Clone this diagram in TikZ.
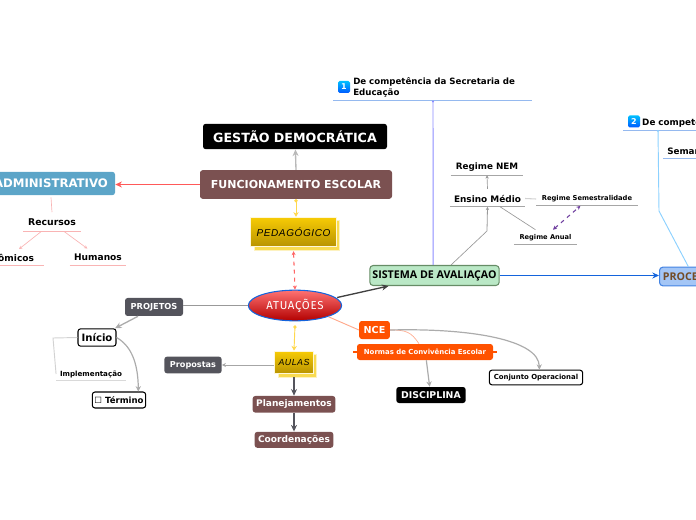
\documentclass[tikz,border=0pt]{standalone}
\usepackage{fontspec}
\setmainfont{DejaVu Sans}
\newfontfamily\handfont{Liberation Sans}[LetterSpace=6]
\newfontfamily\slimfont{Fira Sans}[LetterSpace=6]
\newfontfamily\titlefont{Open Sans}
\usetikzlibrary{arrows.meta,positioning,calc,shapes.geometric,shadows}
\newcommand{\px}[1]{\fontsize{#1}{#1}\selectfont}
\definecolor{mapbrown}{HTML}{7B5151}
\definecolor{mapslate}{HTML}{54545C}
\definecolor{mapsky}{HTML}{5CA5C8}
\definecolor{maporange}{HTML}{FF5200}
\definecolor{mappink}{HTML}{F9B4B4}
\definecolor{mapgold}{HTML}{F7CB05}
\definecolor{mapgoldb}{HTML}{B89300}
\definecolor{mapblue}{HTML}{1464DC}
\definecolor{mapgreen}{HTML}{BAE8C6}
\definecolor{mapsoft}{HTML}{A4C6F6}
\definecolor{mapyellow}{HTML}{FFD84D}
\definecolor{mapsalmon}{HTML}{FFA98C}
\definecolor{mappurple}{HTML}{7040A0}
\tikzset{
  solidBox/.style={rounded corners=2pt, align=center, inner sep=0pt, text=white, font=\bfseries\px{8}},
  blackBox/.style={solidBox, fill=black},
  brownBox/.style={solidBox, fill=mapbrown},
  slateBox/.style={solidBox, fill=mapslate, font=\bfseries\px{6.2}},
  orangeBox/.style={solidBox, fill=maporange},
  whiteBox/.style={rounded corners=2pt, draw=black, fill=white, thick, inner sep=0pt, font=\bfseries\px{7}},
  goldBox/.style={draw=white!85!mapgold, thick, top color=mapgold, bottom color=mapgoldb, inner sep=0pt,
    copy shadow={shadow xshift=2.6pt, shadow yshift=-2.6pt, fill=mapgold!70!white, draw=mapgold!25!white},
    font=\handfont\itshape\px{7.5}},
  rule/.style={inner sep=0pt, font=\bfseries\px{#1}, append after command={
    (\tikzlastnode.south west) edge[draw=ruleColor, line width=0.7pt] (\tikzlastnode.south east)}},
  numBox/.style={rounded corners=1.2pt, top color=cyan!75!blue, bottom color=blue!65!cyan, text=white, inner sep=0pt,
    minimum size=9pt, font=\bfseries\px{6}},
  thinLine/.style={draw=#1, line width=0.5pt},
  mapArrow/.style={-{Stealth[length=5pt,width=4.5pt]}, draw=#1, line width=1pt},
  softArrow/.style={-{Stealth[length=4pt,width=4pt]}, draw=gray!65, line width=0.9pt},
  thinArrow/.style={-{Stealth[length=2.5pt,width=2.5pt]}, draw=#1, line width=0.5pt},
  dotArrow/.style={{Circle[length=2.5pt]}-{Stealth[length=3.5pt,width=4pt]}, draw=mapyellow, line width=0.7pt},
  twoArrow/.style={{Stealth[length=3pt,width=3pt]}-{Stealth[length=3pt,width=3pt]}, dashed, draw=#1, line width=0.8pt}
}
\colorlet{ruleColor}{gray!65}
\begin{document}
\begin{tikzpicture}[x=0.75pt,y=-0.75pt]
  \useasboundingbox (0,0) rectangle (696,520);

  \node[blackBox, minimum width=138pt, minimum height=19pt, font=\bfseries\px{9.5}] (gestao) at (295,136.5) {GESTÃO DEMOCRÁTICA};
  \node[brownBox, minimum width=144pt, minimum height=21.5pt, font=\bfseries\px{8.25}] (funcionamento) at (296,184.5) {FUNCIONAMENTO ESCOLAR};
  \node[solidBox, fill=mapsky, minimum width=96pt, minimum height=17.5pt, font=\bfseries\px{8.8}] (administrativo) at (51,183.5) {ADMINISTRATIVO};
  \colorlet{ruleColor}{mappink}
  \node[rule=7, minimum width=43pt, minimum height=13pt] (recursos) at (52,222.5) {Recursos};
  \node[rule=6.8, minimum width=60pt, minimum height=11pt] (economicos) at (4,258) {Econômicos};
  \node[rule=6.8, minimum width=42pt, minimum height=11pt] (humanos) at (98,257.5) {Humanos};

  \node[goldBox, minimum width=64pt, minimum height=22pt] (pedagogico) at (293.5,232) {PEDAGÓGICO};
  \node[ellipse, draw=mapblue, thick, top color=red!55!white, bottom color=red!70!black, minimum width=70pt, minimum height=23pt,
    inner sep=0pt, text=white, font=\slimfont\px{8.6}] (atuacoes) at (295,305.5) {ATUAÇÕES};

  \node[slateBox, minimum width=43.5pt, minimum height=13.5pt] (projetos) at (154,307) {PROJETOS};
  \node[whiteBox, minimum width=28.5pt, minimum height=13pt, font=\bfseries\px{7.6}] (inicio) at (97,337.5) {Início};
  \colorlet{ruleColor}{gray!30}
  \node[rule=5.35, minimum width=52pt, minimum height=10pt] (implementacao) at (91,374) {Implementação};
  \node[whiteBox, minimum width=40pt, minimum height=12pt, font=\bfseries\px{6.4}] (termino) at (119,400) {☐ Término};
  \node[slateBox, minimum width=43pt, minimum height=12.5pt, font=\bfseries\px{6.1}] (propostas) at (193,365) {Propostas};

  \node[goldBox, minimum width=29pt, minimum height=17pt, font=\handfont\itshape\px{6.6}] (aulas) at (294,362.5) {AULAS};
  \node[brownBox, minimum width=62pt, minimum height=12.5pt, font=\bfseries\px{6.8}, below=16pt of aulas] (planejamentos) {Planejamentos};
  \node[brownBox, minimum width=59pt, minimum height=12pt, font=\bfseries\px{6.8}, below=14pt of planejamentos] (coordenacoes) {Coordenações};

  \node[rounded corners=2.5pt, draw=green!25!black!60, fill=mapgreen, thick, minimum width=97pt, minimum height=15pt, inner sep=0pt,
    font=\titlefont\bfseries\px{8}] (sistema) at (434.5,275.5) {SISTEMA DE AVALIAÇAO};
  \node[rounded corners=2.5pt, draw=mapblue!80, fill=mapsoft, thick, minimum height=14pt, inner ysep=0pt, inner xsep=2.5pt,
    text=brown!60!black, font=\titlefont\bfseries\px{8}, anchor=west] (processo) at (659,276.5) {PROCESSO};

  \node[orangeBox, minimum width=23pt, minimum height=13.5pt, font=\bfseries\px{7.2}] (nce) at (374.5,330) {NCE};
  \node[orangeBox, minimum width=102pt, minimum height=12pt, font=\bfseries\px{5.2}] (normas) at (425,352) {Normas de Convivência Escolar};
  \node[whiteBox, minimum width=70pt, minimum height=11pt, font=\bfseries\px{5.2}] (conjunto) at (536,377.5) {Conjunto Operacional};
  \node[blackBox, minimum width=52pt, minimum height=12pt, font=\bfseries\px{7}] (disciplina) at (431,395) {DISCIPLINA};

  \colorlet{ruleColor}{mapblue!45!white}
  \node[numBox] (iconOne) at (344,87) {1};
  \node[rule=6.5, text width=149pt, align=left, inner ysep=2pt, anchor=south west] (secretaria) at (333,100.5) {\hspace*{15pt}De competência da Secretaria de\\[1.75pt]\hspace*{15pt}Educação};
  \node[numBox] (iconTwo) at (634,121.5) {2};
  \node[rule=6.6, text width=110pt, align=left, inner ysep=2pt, anchor=south west] (escola) at (623,130) {\hspace*{14.2pt}De competência};
  \node[rule=6.6, text width=60pt, align=left, inner ysep=2.5pt, anchor=south west] (semana) at (663,158.5) {\hspace*{3pt}Semana};

  \colorlet{ruleColor}{gray!70}
  \node[rule=6.6, minimum width=54pt, minimum height=12pt] (nem) at (487,167) {Regime NEM};
  \node[rule=6.7, minimum width=56pt, minimum height=12pt] (ensino) at (487.5,198.5) {Ensino Médio};
  \node[rule=5.05, minimum width=76pt, minimum height=10pt] (semestral) at (587,199) {Regime Semestralidade};
  \node[rule=5, minimum width=47pt, minimum height=10pt] (anual) at (545.5,238) {Regime Anual};

  \coordinate (ensinoBend) at (487,231);
  \coordinate (escolaBend) at (659,211);
  \coordinate (inicioBend) at (53,338);

  \draw[mapArrow=gray!55] (funcionamento.north) -- (gestao);
  \draw[mapArrow=red!65!white] (funcionamento.west) -- (funcionamento.west -| administrativo.east);
  \draw[thinLine=mappink] ([yshift=-1.5pt]administrativo.south) -- ([yshift=1pt]recursos.north);
  \draw[thinArrow=mappink] ([xshift=-8pt]recursos.south) -- ([xshift=11.25pt,yshift=1pt]economicos.north);
  \draw[thinArrow=mappink] ([xshift=9pt]recursos.south) -- ([xshift=-8pt,yshift=1pt]humanos.north);

  \draw[dotArrow] (funcionamento.south) -- (pedagogico.north -| funcionamento.south);
  \draw[twoArrow=red!60!white] ([yshift=-3pt]pedagogico.south) -- (atuacoes.north);
  \draw[dotArrow] ([yshift=-3pt]atuacoes.south) -- (aulas.north);

  \draw[thinLine=gray!80] (atuacoes.west) -- (atuacoes.west -| projetos.east);
  \draw[mapArrow=gray!65] ([xshift=-12pt]projetos.south) -- ([xshift=13.5pt]inicio.north);
  \draw[thinLine=gray!35, line width=0.7pt] (inicio.west) -- (inicioBend) -- (implementacao.west);
  \draw[softArrow] (inicio.east) .. controls ($(inicio.east)+(14,8)$) and ($(termino.north)+(19,-30)$) .. ([xshift=14.5pt]termino.north);
  \draw[-{Stealth[length=3pt,width=3pt]}, draw=gray!70, line width=0.7pt] (aulas.west |- propostas.east) -- (propostas.east);
  \draw[mapArrow=mapslate] ([yshift=-2pt]aulas.south) -- (planejamentos.north);
  \draw[mapArrow=mapslate] (planejamentos.south) -- (coordenacoes.north);

  \draw[mapArrow=black!75] ([shift={(-3.75pt,6pt)}]atuacoes.east) -- ([xshift=-34.5pt]sistema.south);
  \draw[thinLine=mapsalmon, line width=0.7pt] (atuacoes.south east) -- (nce.west);
  \draw[thinLine=mapsalmon] (nce.east) .. controls ($(nce.east)+(16,0)$) and ($(normas.north)+(-14,-12)$) .. ([xshift=-4.5pt]normas.north);
  \draw[softArrow] (nce.east) .. controls ($(nce.east)+(80,-2)$) and ($(conjunto.north)+(3,-30)$) .. ([xshift=2.5pt]conjunto.north);
  \draw[softArrow] ([xshift=1pt]normas.south) -- ([xshift=-1pt]disciplina.north);
  \draw[maporange, line width=1pt] ([xshift=-2.5pt]normas.west) -- (normas.west) (normas.east) -- ([xshift=2.5pt]normas.east);

  \draw[mapArrow=mapblue, line width=1.3pt] (sistema) -- (sistema -| processo.west);
  \draw[draw=blue!45!white, line width=0.7pt, {Circle[length=1.5pt]}-] (secretaria.south -| 433,0) -- ([xshift=-1pt]sistema.north);
  \draw[thinLine=gray!80] ([xshift=12.4pt]sistema.north) -- (ensinoBend);
  \draw[-{Stealth[length=2.5pt,width=2.5pt]}, draw=gray!80, line width=0.6pt] (ensinoBend) -- (ensino.south);
  \draw[thinArrow=gray!80] ([yshift=1pt]ensino.north) -- (nem.south);
  \draw[thinLine=gray!35, line width=0.8pt] (ensino.east) -- (semestral.west);
  \draw[thinLine=gray!80] ([xshift=9.4pt]ensino.south) -- ([xshift=-7.5pt,yshift=1pt]anual.north);
  \draw[twoArrow=mappurple] ([xshift=5.6pt,yshift=1pt]anual.north) -- ([xshift=-5pt]semestral.south);
  \draw[draw=blue!40!cyan!45!white, line width=0.7pt, {Circle[length=1.5pt]}-] (escola.south -| 658,0) -- (escolaBend) -- ([xshift=22pt]processo.north west);
\end{tikzpicture}
\end{document}
